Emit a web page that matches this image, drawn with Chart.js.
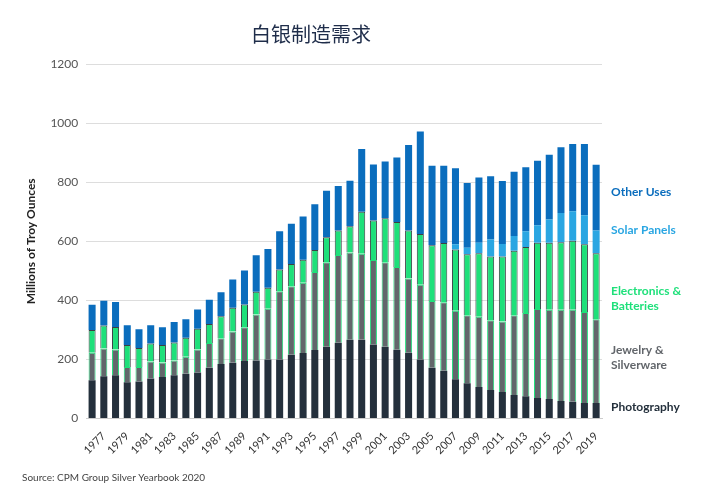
<!DOCTYPE html>
<html><head><meta charset="utf-8">
<script src="https://cdn.jsdelivr.net/npm/chart.js@4/dist/chart.umd.min.js"></script>
<style>html,body{margin:0;padding:0;background:#fff}#wrap{position:relative;width:720px;height:500px}</style>
</head><body><div id="wrap"><canvas id="c" width="720" height="500"></canvas></div>
<script>
const years = [];
for (let y = 1976; y <= 2019; y++) years.push(String(y));
const photography = [130,143,147,123,126,136,141,147,152,156,172,185,189,195,197,200,200,216,222,232,243,257,267,267,251,243,233,223,200,172,162,133,120,107,97,90,80,76,70,66,60,57,53,53];
const jewelry = [93,94,87,52,49,57,49,50,57,78,84,87,106,114,155,172,231,232,238,264,286,297,295,291,286,286,280,251,253,226,232,232,230,238,236,239,270,281,301,302,308,311,308,283];
const electronics = [77,78,76,74,64,61,59,61,65,70,64,74,80,77,77,71,74,75,78,75,85,83,89,142,133,149,152,163,172,189,200,207,206,215,216,220,218,224,224,227,229,234,229,224];
const solar = [0,0,0,0,0,0,0,0,0,0,0,0,0,0,0,0,0,0,0,0,0,0,0,0,0,0,0,0,0,0,0,18,22,35,57,42,50,53,59,79,99,100,98,77];
const otherUses = [85,84,85,67,63,62,60,69,62,65,82,82,96,115,124,131,129,136,146,154,157,150,154,212,190,192,219,289,347,269,262,257,219,221,214,213,217,217,219,219,222,227,241,222];
const labels = ["Photography","Jewelry &\nSilverware","Electronics &\nBatteries","Solar Panels","Other Uses"];
const colors = ["#24303c","#62666b","#1ee07a","#2aa6e2","#0a6dbd"];
const borders = ["#24303c","#1ee07a","#3a3f44","#2aa6e2","#0a6dbd"];
const series = [photography,jewelry,electronics,solar,otherUses];
const labelOffsets = [-4,-4,12,-12,-5];

const sideLabels = {
  id:'sideLabels',
  afterDraw(chart){
    const ctx = chart.ctx, ys = chart.scales.y;
    const last = years.length-1;
    let base = 0;
    ctx.save();
    ctx.font = 'bold 12px Lato';
    ctx.textBaseline = 'middle';
    series.forEach((s,i)=>{
      const mid = base + s[last]/2; base += s[last];
      const y = ys.getPixelForValue(mid) + labelOffsets[i];
      const lines = labels[i].split('\n');
      ctx.fillStyle = i===0 ? '#24303c' : (i===1 ? '#62666b' : colors[i]);
      lines.forEach((t,k)=>ctx.fillText(t, 611, y + (k-(lines.length-1)/2)*15));
    });
    ctx.font = '10px Lato'; ctx.fillStyle = '#444';
    ctx.fillText('Source: CPM Group Silver Yearbook 2020', 22, 478);
    ctx.restore();
  }
};

new Chart(document.getElementById('c'), {
  type:'bar',
  data:{labels:years, datasets: series.map((d,i)=>({label:labels[i], data:d, backgroundColor:colors[i], borderColor:borders[i], borderWidth:i===1||i===2?1:0, barPercentage:0.6, categoryPercentage:1}))},
  options:{
    responsive:false, animation:false,
    layout:{padding:{left:20,right:118,top:14,bottom:40}},
    plugins:{legend:{display:false}, tooltip:{enabled:false},
      title:{display:true, text:'白银制造需求', color:'#1f2d4a', font:{size:20, family:'Noto Sans CJK SC', weight:'normal'}, padding:{top:8,bottom:18}}},
    scales:{
      x:{stacked:true, grid:{display:false}, border:{color:'#ccc'},
        ticks:{autoSkip:false, maxRotation:45, minRotation:45, color:'#333', font:{size:11, family:'Lato'},
          callback:function(v,i){ const y=+years[i]; return y%2===1 ? years[i] : ''; }}},
      y:{stacked:true, min:0, max:1200, ticks:{stepSize:200, color:'#555', font:{size:12, family:'Lato'}, padding:8, callback:v=>String(v)},
        grid:{color:'#dddddd', drawTicks:false}, border:{display:false},
        title:{display:true, text:'Millions of Troy Ounces', color:'#222', font:{size:12, weight:'bold', family:'Lato'}}}
    }
  },
  plugins:[sideLabels]
});
</script></body></html>
